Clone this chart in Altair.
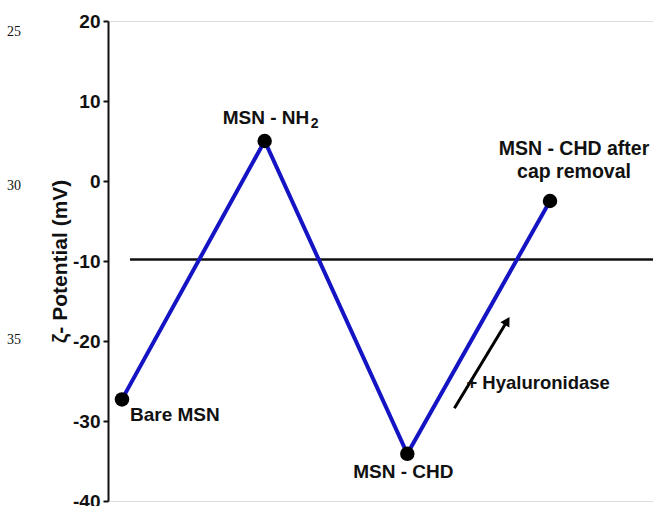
import altair as alt
import pandas as pd

# Zeta potential of each particle stage
samples = ["Bare MSN", "MSN - NH2", "MSN - CHD", "MSN - CHD after cap removal"]
zeta_mv = [-27.3, 5.0, -34.1, -2.5]
step = [0, 1, 2, 3]

# Reference level drawn across the plot
reference_mv = [-9.8]

# Enzyme arrow (tail -> head) in data units
arrow_step = [2.33, 2.70]
arrow_mv = [-28.4, -17.5]

# Manuscript line numbers in the margin
line_numbers = ["25", "30", "35"]
line_number_mv = [18.6, -0.6, -19.9]

FONT = "Liberation Sans"
BLUE = "#1414c4"

pts = pd.DataFrame({"sample": samples, "step": step, "zeta": zeta_mv})
ref = pd.DataFrame({"zeta": reference_mv, "x0": [0.056], "x1": [3.722]})
arrow = pd.DataFrame({"step": arrow_step, "zeta": arrow_mv, "order": [0, 1]})
head = pd.DataFrame({"step": [arrow_step[1]], "zeta": [arrow_mv[1]]})
nums = pd.DataFrame({"label": line_numbers, "zeta": line_number_mv})

xs = alt.Scale(domain=[-0.098, 3.722], nice=False, zero=False)
ys = alt.Scale(domain=[-40, 20], nice=False, zero=False)

X = alt.X("step:Q", scale=xs, axis=None)
Y = alt.Y(
    "zeta:Q",
    scale=ys,
    axis=alt.Axis(
        values=[-40, -30, -20, -10, 0, 10, 20],
        labelExpr="'' + datum.value",
        title="ζ- Potential (mV)",
        titleFont=FONT,
        titleFontSize=21,
        titleFontWeight="bold",
        titleColor="#111",
        titlePadding=2,
        labelFont=FONT,
        labelFontSize=19,
        labelFontWeight="bold",
        labelColor="#111",
        labelPadding=3,
        tickSize=5,
        tickWidth=2,
        tickColor="#111",
        domainWidth=2,
        domainColor="#111",
        grid=False,
    ),
)

base = alt.Chart(pts)

hline = alt.Chart(ref).mark_rule(color="#111", strokeWidth=2.5).encode(
    x=alt.X("x0:Q", scale=xs, axis=None), x2="x1:Q", y=Y
)

line = base.mark_line(color=BLUE, strokeWidth=4).encode(x=X, y=Y, order="step:Q")
dots = base.mark_circle(color="black", opacity=1, size=210).encode(x=X, y=Y)

shaft = alt.Chart(arrow).mark_line(color="black", strokeWidth=3).encode(
    x=X, y=Y, order="order:Q"
)
tip = alt.Chart(head).mark_point(
    shape="triangle-up", filled=True, color="black", opacity=1, size=110, angle=31
).encode(x=X, y=Y)


def label(df, text, dx, dy, align="center", size=19):
    return alt.Chart(df).mark_text(
        text=text, dx=dx, dy=dy, align=align, baseline="alphabetic",
        font=FONT, fontSize=size, fontWeight="bold", color="#111",
    ).encode(x=X, y=Y)


p = [pts.iloc[[i]] for i in range(4)]
labels = [
    label(p[0], "Bare MSN", 8, 22, align="left"),
    label(p[1], "MSN - NH", -42, -17, align="left"),
    label(p[1], "2", 46, -13, align="left", size=14),
    label(p[2], "MSN - CHD", -4, 24),
    label(p[3], "MSN - CHD after", 24, -46, size=19.5),
    label(p[3], "cap removal", 24, -23, size=19.5),
    label(arrow.iloc[[0]], "+ Hyaluronidase", 12, -19, align="left", size=18.5),
]

margin = alt.Chart(nums).mark_text(
    align="left", baseline="middle", font="Liberation Serif", fontSize=14, color="#111"
).encode(x=alt.value(-101), y=alt.Y("zeta:Q", scale=ys), text="label:N")

chart = alt.layer(hline, line, dots, shaft, tip, *labels, margin).properties(
    width=545,
    height=480,
    autosize=alt.AutoSizeParams(type="none"),
    padding={"left": 108, "top": 21, "right": 0, "bottom": 5},
).configure_view(stroke=None).configure(background="white")

chart.save("out.html", embed_options={"renderer": "svg", "actions": False})
